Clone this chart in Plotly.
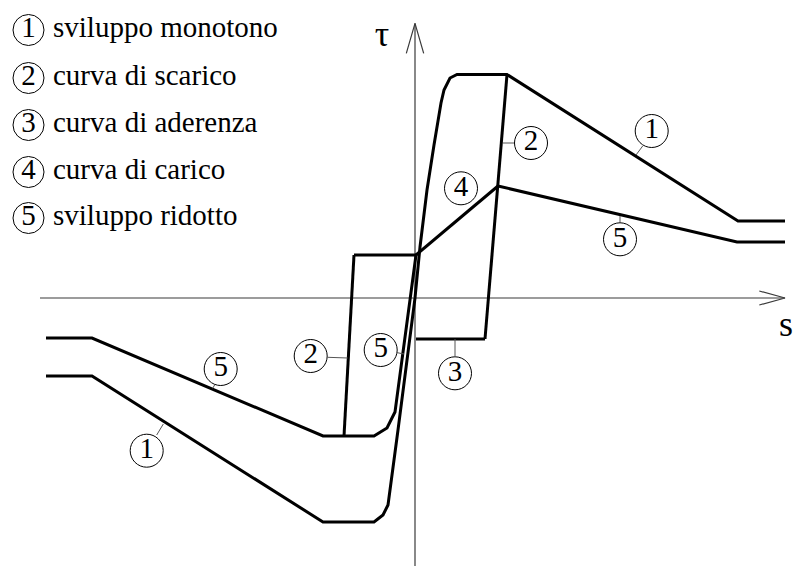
import plotly.graph_objects as go

# Bond stress-slip (tau - s) cyclic law, schematic units: slip s, bond stress tau
# 1) monotonic envelope
s_monotono = [-369, -323, -92, -41, -32, -27, -17, -8, 0, 5, 12, 19, 26, 29, 35, 42, 92, 323, 370]
tau_monotono = [-78, -78, -224, -224, -217, -207, -132, -62, 0, 51, 108, 153, 195, 208, 220, 223.5, 223.5, 77, 77]

# 5) reduced envelope (negative branch up to the reloading point, positive branch)
s_ridotto_neg = [-369, -323, -92, -41, -28, -20, 1]
tau_ridotto_neg = [-40, -40, -138, -138, -130, -114, 43]
s_ridotto_pos = [83, 322, 370]
tau_ridotto_pos = [112, 56, 56]

# 4) reloading curve
s_carico = [1, 83]
tau_carico = [43, 112]

# 2) unloading curves
s_scarico_pos = [92, 70]
tau_scarico_pos = [223.5, -41]
s_scarico_neg = [-71, -61]
tau_scarico_neg = [-138, 43]

# 3) frictional (adhesion) plateaus
s_aderenza_pos = [70, 1]
tau_aderenza_pos = [-41, -41]
s_aderenza_neg = [-61, 1]
tau_aderenza_neg = [43, 43]

# Numbered callouts: circle centre and leader line (start, end)
label_num = ["1", "1", "2", "2", "3", "4", "5", "5", "5"]
label_s = [236.7, -268.3, 116, -104.3, 40, 46, -34.3, -194.3, 205]
label_tau = [167, -152.7, 155, -58, -75.3, 109.7, -52, -71, 58.7]
leader_s = [(221, 227.7), (-251.7, -258.3), (88, 100), (-87.3, -67.3), (40, 40),
            None, (-17.7, -11), (-200, -202.3), (205, 205)]
leader_tau = [(143, 152), (-126, -137), (155, 155), (-59.3, -60), (-41, -58),
              None, (-54.7, -56), (-86.3, -90.3), (82, 75.3)]

# Key
key_num = ["1", "2", "3", "4", "5"]
key_text = ["sviluppo monotono", "curva di scarico", "curva di aderenza",
            "curva di carico", "sviluppo ridotto"]
key_tau = [268, 220, 173, 126, 80]

# Coordinate axes extents
s_axis = [-375, 370]
tau_axis = [-268, 274.7]

FONT = "Times New Roman, Liberation Serif, DejaVu Serif, serif"
fig = go.Figure()

def line(xs, ys, width=3, color="black"):
    fig.add_trace(go.Scatter(x=xs, y=ys, mode="lines",
                             line=dict(color=color, width=width),
                             hoverinfo="skip"))

# axes with open arrowheads
ax_col = "#3a3a3a"
line(s_axis, [0, 0], 1.2, ax_col)
line([0, 0], tau_axis, 1.2, ax_col)
line([s_axis[1] - 25.7, s_axis[1], s_axis[1] - 25.7], [7, 0, -7], 1.2, ax_col)
line([-8.7, 0, 8.7], [tau_axis[1] - 30, tau_axis[1], tau_axis[1] - 30], 1.2, ax_col)

# curves
line(s_monotono, tau_monotono)
line(s_ridotto_neg, tau_ridotto_neg)
line(s_ridotto_pos, tau_ridotto_pos)
line(s_carico, tau_carico)
line(s_scarico_pos, tau_scarico_pos)
line(s_scarico_neg, tau_scarico_neg)
line(s_aderenza_pos, tau_aderenza_pos)
line(s_aderenza_neg, tau_aderenza_neg)

# leader lines
for ls, lt in zip(leader_s, leader_tau):
    if ls is not None:
        line(list(ls), list(lt), 1, "#555555")

# numbered circles on the curves
fig.add_trace(go.Scatter(
    x=label_s, y=label_tau, mode="markers+text", text=label_num,
    textposition="middle center",
    textfont=dict(family=FONT, size=29, color="black"),
    marker=dict(symbol="circle", size=33, color="white",
                line=dict(color="black", width=1)),
    hoverinfo="skip"))

# key
fig.add_trace(go.Scatter(
    x=[-386.5] * 5, y=key_tau, mode="markers+text", text=key_num,
    textposition="middle center",
    textfont=dict(family=FONT, size=29, color="black"),
    marker=dict(symbol="circle", size=31, color="white",
                line=dict(color="black", width=1)),
    hoverinfo="skip"))
fig.add_trace(go.Scatter(
    x=[-362] * 5, y=key_tau, mode="text", text=key_text,
    textposition="middle right",
    textfont=dict(family=FONT, size=29, color="black"),
    hoverinfo="skip"))

# axis titles
fig.add_trace(go.Scatter(
    x=[-33, 371], y=[261, -29], mode="text", text=["τ", "s"],
    textposition="middle center",
    textfont=dict(family=FONT, size=36, color="black"),
    hoverinfo="skip"))

fig.update_layout(
    width=795, height=566,
    margin=dict(l=0, r=0, t=0, b=0),
    font=dict(family=FONT, color="black"),
    paper_bgcolor="white", plot_bgcolor="white",
    showlegend=False,
    xaxis=dict(range=[-415, 380], visible=False, fixedrange=True),
    yaxis=dict(range=[-268, 298], visible=False, fixedrange=True),
)

fig.write_html("out.html")
